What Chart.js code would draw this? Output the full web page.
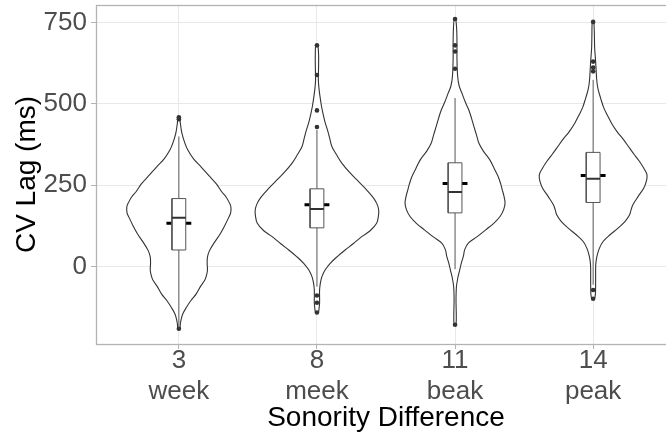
<!DOCTYPE html>
<html>
<head>
<meta charset="utf-8">
<script src="https://cdn.jsdelivr.net/npm/chart.js@4.4.1/dist/chart.umd.min.js"></script>
<style>
  html, body { margin: 0; padding: 0; background: #fff; overflow: hidden; }
  #wrap { width: 666px; height: 436px; overflow: hidden; }
</style>
</head>
<body>
<div id="wrap"><canvas id="chart" width="680" height="436"></canvas></div>
<script>
// Groups on the x axis
const categories = ['3', '8', '11', '14']
const words = ['week', 'meek', 'beak', 'peak']

// Violin outlines: [CV lag (ms), half width in x units], top to bottom
const violinWeek = [
  [459, 0.006], [440, 0.011], [410, 0.022], [380, 0.043], [358, 0.065], [330, 0.108],
  [306, 0.162], [280, 0.216], [255, 0.270], [230, 0.310], [214, 0.342], [195, 0.367],
  [183, 0.377], [165, 0.375], [152, 0.362], [125, 0.331], [101, 0.300], [75, 0.259],
  [49, 0.222], [29, 0.207], [10, 0.205], [-12, 0.207], [-30, 0.198], [-43, 0.186],
  [-60, 0.158], [-84, 0.126], [-105, 0.086], [-126, 0.054], [-145, 0.029], [-160, 0.018],
  [-175, 0.011], [-193, 0.006],
]
const violinMeek = [
  [680, 0.008], [650, 0.012], [625, 0.012], [600, 0.011], [574, 0.010], [550, 0.014],
  [523, 0.022], [495, 0.032], [472, 0.043], [445, 0.058], [420, 0.076], [395, 0.092],
  [369, 0.108], [345, 0.140], [318, 0.180], [290, 0.235], [267, 0.288], [240, 0.350],
  [215, 0.402], [195, 0.432], [174, 0.447], [155, 0.445], [133, 0.432], [110, 0.385],
  [92, 0.324], [70, 0.262], [51, 0.204], [30, 0.145], [10, 0.096], [-10, 0.060],
  [-31, 0.036], [-50, 0.025], [-72, 0.019], [-95, 0.019], [-113, 0.019], [-130, 0.015],
  [-141, 0.010],
]
const violinBeak = [
  [760, 0.006], [728, 0.012], [687, 0.014], [636, 0.014], [584, 0.019], [555, 0.030],
  [533, 0.050], [505, 0.075], [482, 0.099], [455, 0.120], [430, 0.137], [405, 0.155],
  [379, 0.173], [355, 0.205], [328, 0.252], [300, 0.285], [277, 0.312], [255, 0.330],
  [236, 0.342], [215, 0.355], [195, 0.362], [175, 0.352], [154, 0.326], [133, 0.280],
  [113, 0.222], [92, 0.160], [72, 0.096], [52, 0.070], [31, 0.060], [10, 0.045],
  [-10, 0.034], [-35, 0.020], [-62, 0.010], [-102, 0.007], [-154, 0.009], [-179, 0.006],
]
const violinPeak = [
  [752, 0.006], [712, 0.009], [672, 0.011], [630, 0.018], [600, 0.022], [569, 0.027],
  [545, 0.036], [518, 0.054], [490, 0.075], [466, 0.102], [440, 0.134], [415, 0.173],
  [390, 0.220], [364, 0.264], [343, 0.300], [323, 0.336], [300, 0.370], [282, 0.390],
  [262, 0.385], [241, 0.366], [215, 0.325], [190, 0.288], [175, 0.275], [159, 0.264],
  [138, 0.230], [118, 0.180], [97, 0.120], [77, 0.072], [56, 0.045], [36, 0.030],
  [15, 0.021], [-5, 0.018], [-46, 0.018], [-87, 0.016], [-99, 0.008],
]
const violins = [violinWeek, violinMeek, violinBeak, violinPeak]

// Box plot summaries
const lowerWhisker = [-185, -62, -8, -56]
const q1 = [51, 119, 165, 197]
const medians = [150, 177, 229, 270]
const q3 = [209, 239, 319, 351]
const upperWhisker = [400, 420, 518, 574]
const means = [133, 190, 255, 280]
const outliers = [
  [459, 453, -191],
  [680, 589, 480, 429, -89, -111, -141],
  [761, 680, 661, 608, -179],
  [752, 630, 612, 600, -72, -99],
]

// Y axis
const yMin = -238
const yMax = 804
const yTicks = [-125, 0, 125, 250, 375, 500, 625, 750]

const BOX_HALF = 0.05
const MEAN_HALF = 0.09
const FONT = '"Liberation Sans", Arial, Helvetica, sans-serif'

Chart.defaults.font.family = FONT

const datasets = []

violins.forEach((violin, i) => {
  const cx = i + 1
  const right = violin.map(([v, w]) => ({ x: cx + w, y: v }))
  const left = violin.slice().reverse().map(([v, w]) => ({ x: cx - w, y: v }))
  datasets.push({
    label: 'violin ' + categories[i],
    data: [...right, ...left, right[0]],
    showLine: true,
    borderColor: '#333',
    borderWidth: 1.1,
    backgroundColor: '#fff',
    fill: 'shape',
    pointRadius: 0,
    tension: 0.35,
    order: 6,
  })
})

// Mean markers (drawn under the boxes)
const meanData = []
means.forEach((m, i) => {
  meanData.push({ x: i + 1 - MEAN_HALF, y: m }, { x: i + 1 + MEAN_HALF, y: m }, { x: i + 1, y: null })
})
datasets.push({
  label: 'mean',
  data: meanData,
  showLine: true,
  borderColor: '#000',
  borderWidth: 3,
  pointRadius: 0,
  order: 5,
})

// Whiskers
const whiskerData = []
categories.forEach((c, i) => {
  whiskerData.push({ x: i + 1, y: lowerWhisker[i] }, { x: i + 1, y: upperWhisker[i] }, { x: i + 1, y: null })
})
datasets.push({
  label: 'whiskers',
  data: whiskerData,
  showLine: true,
  borderColor: '#555',
  borderWidth: 1,
  pointRadius: 0,
  order: 4,
})

// Boxes
categories.forEach((c, i) => {
  const l = i + 1 - BOX_HALF
  const r = i + 1 + BOX_HALF
  datasets.push({
    label: 'box ' + c,
    data: [{ x: l, y: q1[i] }, { x: r, y: q1[i] }, { x: r, y: q3[i] }, { x: l, y: q3[i] }, { x: l, y: q1[i] }],
    showLine: true,
    borderColor: '#555',
    borderWidth: 1,
    backgroundColor: '#fff',
    fill: 'shape',
    pointRadius: 0,
    order: 3,
  })
})

// Medians
const medianData = []
medians.forEach((m, i) => {
  medianData.push({ x: i + 1 - BOX_HALF, y: m }, { x: i + 1 + BOX_HALF, y: m }, { x: i + 1, y: null })
})
datasets.push({
  label: 'median',
  data: medianData,
  showLine: true,
  borderColor: '#333',
  borderWidth: 2,
  pointRadius: 0,
  order: 2,
})

// Outliers
datasets.push({
  label: 'outliers',
  data: outliers.flatMap((list, i) => list.map(v => ({ x: i + 1, y: v }))),
  showLine: false,
  pointRadius: 2.3,
  pointBackgroundColor: '#333',
  pointBorderWidth: 0,
  order: 1,
})

const isMajor = v => v % 250 === 0
const isEdge = v => v === yMin || v === yMax

// panel border drawn on top, like ggplot's panel.border
const panelBorder = {
  id: 'panelBorder',
  afterDraw(chart) {
    const { ctx, chartArea: { left, right, top, bottom } } = chart
    ctx.save()
    ctx.strokeStyle = '#B3B3B3'
    ctx.lineWidth = 1.3
    ctx.strokeRect(left + 0.5, top + 0.5, right - left - 1, bottom - top)
    ctx.restore()
  },
}

// keep the tick labels from reserving extra room above/below the panel
const noLabelPadding = scale => {
  scale.paddingTop = 0
  scale.paddingBottom = 0
  scale.paddingLeft = 0
  scale.paddingRight = 0
}

new Chart(document.getElementById('chart'), {
  type: 'scatter',
  data: { datasets },
  options: {
    responsive: false,
    animation: false,
    events: [],
    layout: { padding: { top: 5, right: 1, bottom: 0, left: 0 } },
    plugins: {
      legend: { display: false },
      tooltip: { enabled: false },
    },
    scales: {
      x: {
        type: 'linear',
        min: 0.4,
        max: 4.6,
        afterBuildTicks: scale => {
          scale.ticks = categories.map((c, i) => ({ value: i + 1 }))
        },
        afterFit: scale => {
          scale.height = 92
          noLabelPadding(scale)
        },
        border: { display: false },
        grid: {
          color: '#E8E8E8',
          lineWidth: 1,
          tickColor: '#B3B3B3',
          tickLength: 5,
        },
        ticks: {
          color: '#4D4D4D',
          font: { size: 26, lineHeight: 1.2 },
          padding: -4,
          maxRotation: 0,
          callback: v => {
            const i = Math.round(v) - 1
            return [categories[i], words[i]]
          },
        },
        title: {
          display: true,
          text: 'Sonority Difference',
          color: '#000',
          font: { size: 28 },
          padding: { top: 0, bottom: 1 },
        },
      },
      y: {
        type: 'linear',
        min: yMin,
        max: yMax,
        afterBuildTicks: scale => {
          scale.ticks = [yMin, ...yTicks, yMax].map(v => ({ value: v }))
        },
        afterFit: scale => {
          scale.width = 96
          noLabelPadding(scale)
        },
        border: { display: false },
        grid: {
          color: ctx => {
            const v = ctx.tick && ctx.tick.value
            if (isEdge(v)) return 'rgba(0,0,0,0)'
            return isMajor(v) ? '#E8E8E8' : '#F3F3F3'
          },
          lineWidth: 1,
          tickColor: ctx => {
            const v = ctx.tick && ctx.tick.value
            return !isEdge(v) && isMajor(v) ? '#B3B3B3' : 'rgba(0,0,0,0)'
          },
          tickLength: 5,
        },
        ticks: {
          color: '#4D4D4D',
          font: { size: 26 },
          padding: 4,
          callback: v => (!isEdge(v) && isMajor(v) ? String(v) : null),
        },
        title: {
          display: true,
          text: 'CV Lag (ms)',
          color: '#000',
          font: { size: 28 },
          padding: { top: 10, bottom: 0 },
        },
      },
    },
  },
  plugins: [panelBorder],
})
</script>
</body>
</html>
